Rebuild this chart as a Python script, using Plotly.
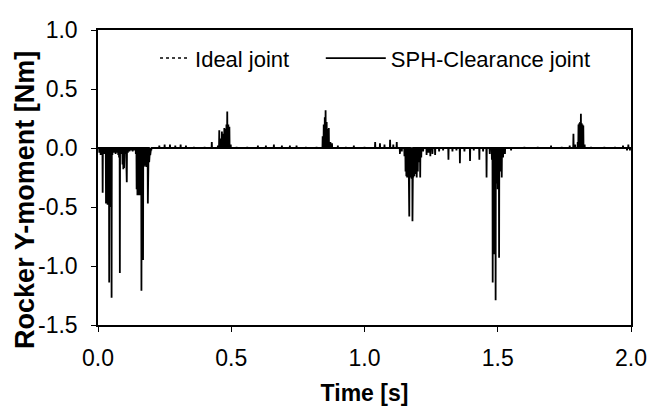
import plotly.graph_objects as go

# ---- data (time in s, moment in Nm) ----
# SPH-Clearance joint: peaks of the spiky response, baseline returns to ~0 between them
sph_t = [
    0.005, 0.010, 0.0175, 0.024, 0.030, 0.033, 0.036, 0.039, 0.042, 0.045, 0.048, 0.051, 0.054,
    0.060, 0.066, 0.072, 0.076, 0.079, 0.082, 0.088, 0.092, 0.095, 0.098, 0.102, 0.106, 0.108,
    0.112, 0.118, 0.124, 0.130, 0.136, 0.142, 0.145, 0.148, 0.151, 0.154, 0.157, 0.160, 0.163,
    0.166, 0.169, 0.172, 0.175, 0.178, 0.181, 0.184, 0.187, 0.189, 0.192, 0.196, 0.200,
    0.23, 0.25, 0.27, 0.29, 0.31, 0.33, 0.36, 0.40,
    0.427, 0.450, 0.455, 0.460, 0.465, 0.470, 0.474, 0.478, 0.482, 0.485, 0.489, 0.493, 0.498,
    0.52, 0.56, 0.60, 0.63, 0.66, 0.69, 0.72, 0.745, 0.78, 0.82,
    0.843, 0.847, 0.851, 0.854, 0.858, 0.862, 0.866, 0.872, 0.878, 0.90, 0.93, 0.96, 1.00,
    1.04, 1.058, 1.075, 1.096, 1.108, 1.121, 1.133, 1.14,
    1.150, 1.154, 1.157, 1.160, 1.163, 1.166, 1.168, 1.171, 1.174, 1.177, 1.180, 1.183, 1.187,
    1.191, 1.196, 1.200, 1.204, 1.209, 1.213, 1.22, 1.233, 1.24, 1.247, 1.255, 1.265, 1.28,
    1.295, 1.315, 1.33, 1.345, 1.358, 1.375, 1.396, 1.41, 1.431, 1.445, 1.458, 1.47, 1.478,
    1.481, 1.485, 1.488, 1.492, 1.496, 1.500, 1.505, 1.510, 1.515, 1.52, 1.527, 1.55,
    1.60, 1.65, 1.70, 1.74, 1.77,
    1.784, 1.79, 1.800, 1.803, 1.806, 1.809, 1.812, 1.815, 1.818, 1.821, 1.826, 1.85, 1.90,
    1.94, 1.97, 1.985, 1.99, 1.996,
]
sph_m = [
    -0.04, -0.06, -0.38, -0.05, -0.47, -0.46, -0.48, -0.47, -1.14, -0.50, -0.48, -1.27, -0.06,
    -0.04, -0.05, -0.04, -0.06, -0.08, -1.06, -0.05, -0.14, -0.18, -0.17, -0.05, -0.10, -0.29,
    -0.04, -0.03, -0.02, -0.03, -0.02, -0.05, -0.35, -0.40, -0.38, -0.40, -0.36, -0.40, -1.21,
    -0.42, -0.95, -0.16, -0.15, -0.14, -0.16, -0.15, -0.47, -0.14, -0.12, -0.06, -0.02,
    0.02, 0.03, 0.03, 0.02, 0.03, 0.02, 0.01, 0.01,
    0.05, 0.02, 0.15, 0.08, 0.14, 0.12, 0.17, 0.16, 0.20, 0.31, 0.20, 0.18, 0.03,
    0.01, 0.01, 0.02, 0.02, 0.03, 0.02, 0.02, 0.02, 0.01, 0.01,
    0.10, 0.20, 0.26, 0.32, 0.22, 0.16, 0.17, 0.05, 0.04, 0.02, 0.01, 0.02, 0.01,
    0.05, 0.04, 0.03, 0.07, 0.03, 0.05, -0.05, -0.03,
    -0.07, -0.20, -0.24, -0.25, -0.24, -0.26, -0.58, -0.25, -0.24, -0.26, -0.62, -0.25, -0.24,
    -0.22, -0.25, -0.20, -0.12, -0.25, -0.08, -0.03, -0.06, -0.04, -0.07, -0.05, -0.06, -0.03,
    -0.02, -0.10, -0.03, -0.02, -0.13, -0.03, -0.11, -0.02, -0.10, -0.03, -0.25, -0.05, -0.10,
    -1.14, -0.90, -0.60, -1.29, -0.30, -0.35, -0.93, -0.20, -0.25, -0.08, -0.05, -0.02,
    0.01, 0.01, 0.02, 0.01, 0.02,
    0.12, 0.03, 0.05, 0.20, 0.21, 0.22, 0.29, 0.21, 0.20, 0.19, 0.03, 0.01, 0.01,
    0.01, 0.02, -0.02, 0.03, -0.02,
]

# Ideal joint: stays on the zero line
ideal_t = [0.0, 0.25, 0.5, 0.75, 1.0, 1.25, 1.5, 1.75, 2.0]
ideal_m = [0.0, 0.0, 0.0, 0.0, 0.0, 0.0, 0.0, 0.0, 0.0]

x_ticks = [0.0, 0.5, 1.0, 1.5, 2.0]
y_ticks = [1.0, 0.5, 0.0, -0.5, -1.0, -1.5]
y_labels = ["1.0", "0.5", "0.0", "-0.5", "-1.0", "-1.5"]

# spikes go back to the baseline between the sampled peaks
line_x, line_y = [0.0], [0.0]
for t, m in zip(sph_t, sph_m):
    line_x += [t - 0.0008, t, t + 0.0008]
    line_y += [0.0, m, 0.0]
line_x.append(2.0)
line_y.append(0.0)

FONT = "Liberation Sans, Arial, sans-serif"

fig = go.Figure()
fig.add_trace(go.Scatter(
    x=ideal_t, y=ideal_m, mode="lines", name="Ideal joint",
    line=dict(color="black", width=1.5, dash="dot"),
    legend="legend",
))
fig.add_trace(go.Scatter(
    x=line_x, y=line_y, mode="lines", name="SPH-Clearance joint",
    line=dict(color="black", width=1.8),
    legend="legend2",
))

# page body has an 8px margin, so the figure is 8px smaller than the window
legend_style = dict(
    orientation="h", y=0.904, xanchor="left", yanchor="middle",
    bgcolor="rgba(0,0,0,0)", font=dict(size=22),
)
fig.update_layout(
    width=650, height=403,
    margin=dict(l=90, r=27, t=9, b=83),
    paper_bgcolor="white", plot_bgcolor="white",
    font=dict(family=FONT, size=23, color="black"),
    showlegend=True,
    legend=dict(x=0.107, **legend_style),
    legend2=dict(x=0.418, itemwidth=60, **legend_style),
    annotations=[dict(
        text="<b>Rocker Y-moment [Nm]</b>", textangle=-90,
        xref="paper", yref="paper", x=-0.137, y=0.424,
        xanchor="center", yanchor="middle", showarrow=False,
        font=dict(size=27),
    )],
)
fig.update_xaxes(
    range=[0, 2], tickvals=x_ticks, tickformat=".1f",
    showline=True, linecolor="black", linewidth=1.5, mirror=True,
    ticks="outside", ticklen=5, tickcolor="black", showgrid=False, zeroline=False,
    ticklabelstandoff=7, ticklabeloverflow="allow",
    title=dict(text="<b>Time [s]</b>", font=dict(size=23), standoff=15),
)
fig.update_yaxes(
    range=[-1.5, 1.0], tickvals=y_ticks, ticktext=y_labels,
    showline=True, linecolor="black", linewidth=1.5, mirror=True,
    ticks="outside", ticklen=5, tickcolor="black", showgrid=False, zeroline=False,
    ticklabelstandoff=9, ticklabeloverflow="allow",
)

fig.write_html("out.html")
